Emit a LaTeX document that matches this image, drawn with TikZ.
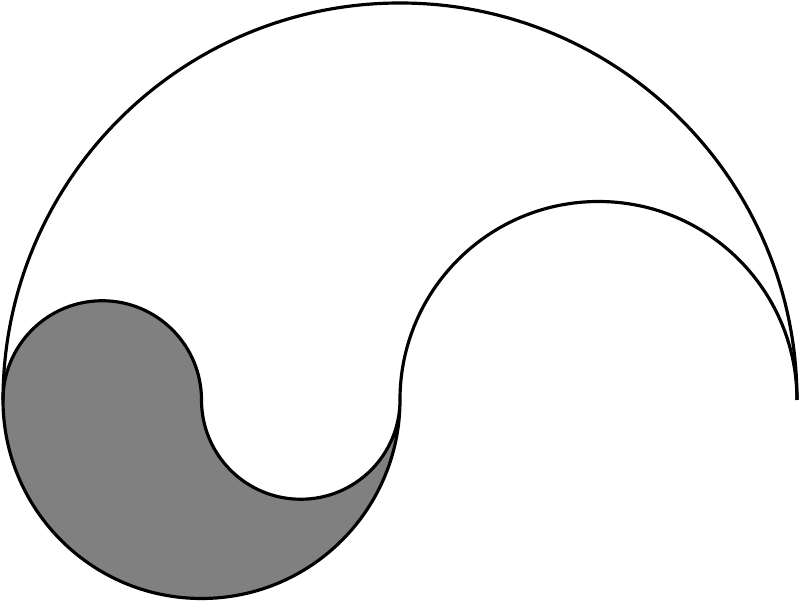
\documentclass[tikz,border=0pt]{standalone}
\usepackage{tikz}
\begin{document}
\begin{tikzpicture}[line width=0.9pt]
\useasboundingbox (0,0) rectangle (8,6.01);
\begin{scope}[shift={(0.03,2.01)}, scale=0.9925]
\coordinate (L) at (0,0);
\coordinate (M) at (4,0);
\coordinate (R) at (8,0);

% gray part
\filldraw[fill=gray] (L) arc (180:0:1) arc (180:360:1) arc (0:-180:2) -- cycle;

% outer and inner arches
\draw (L) arc (180:0:4);
\draw (M) arc (180:0:2);
\end{scope}
\end{tikzpicture}
\end{document}
